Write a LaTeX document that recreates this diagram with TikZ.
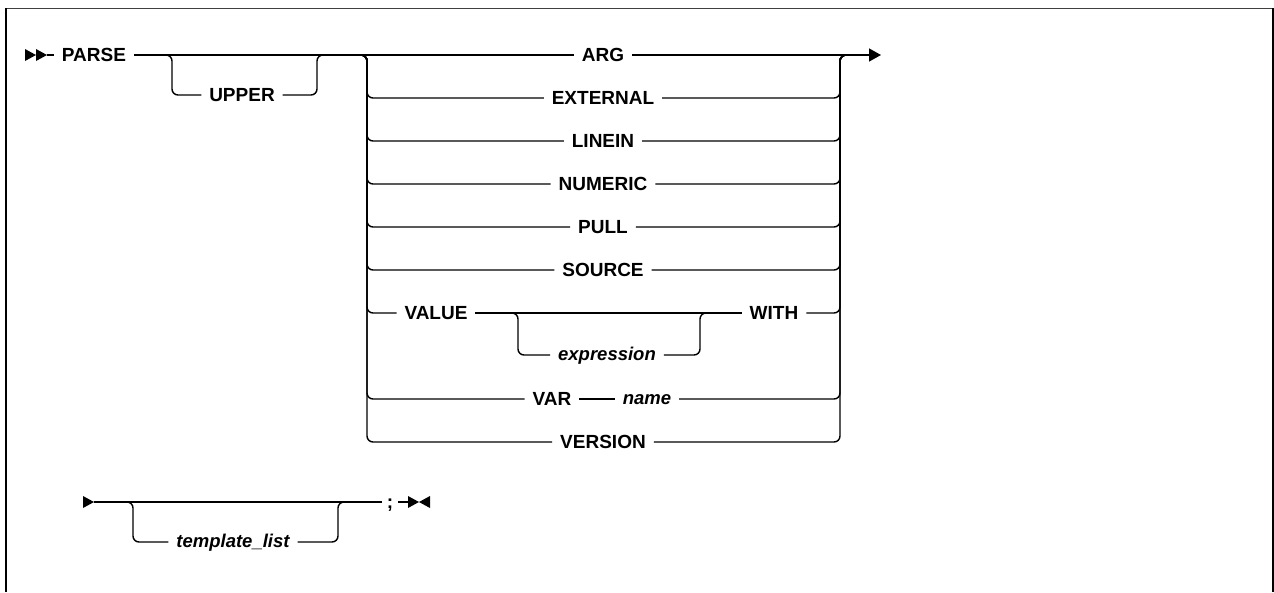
\documentclass[tikz,border=0pt]{standalone}
\usepackage{fontspec}
\newfontfamily\railfont{Liberation Sans}
\usetikzlibrary{arrows.meta}
\tikzset{
  rail/.style={line width=1.4pt, rounded corners=6pt},
  kw/.style={font=\railfont\bfseries\fontsize{19}{22}\selectfont, inner xsep=8pt, inner ysep=0pt,
    outer sep=0pt, text height=13.5pt, text depth=0pt},
  varbox/.style={kw, font=\railfont\bfseries\itshape\fontsize{18.5}{22}\selectfont, text height=10pt}
}

\begin{document}
\begin{tikzpicture}[x=1pt,y=-1pt]
  \useasboundingbox (0,0) rectangle (1274,592);
  % Frame
  \draw[line width=1.5pt, black!75] (6,8.5) -- (1273,8.5);
  \draw[line width=2pt] (6,592) -- (6,7.75);
  \draw[line width=2pt] (1273,7.75) -- (1273,592);

  % Keywords
  \node[kw] (PARSE) at (94,55) {PARSE};
  \node[kw] (UPPER) at (242,95) {UPPER};
  \foreach \n/\y in {ARG/55,EXTERNAL/98,LINEIN/141,NUMERIC/184,PULL/227,SOURCE/270,VERSION/442}
    \node[kw] (\n) at (603,\y) {\n};
  \node[kw] (VALUE) at (436,313) {VALUE};
  \node[varbox] (expression) at (607,355) {expression};
  \node[kw] (WITH) at (774,313) {WITH};
  \node[kw] (VAR) at (552,399) {VAR};
  \node[varbox] (name) at (647,399) {name};
  \node[varbox] (template) at (233,542) {template\_list};
  \node[kw, inner xsep=5pt] (semi) at (390,502) {;};

  % Branch points
  \coordinate (start) at (47,55);
  \coordinate (out) at (881,55);
  \coordinate (u1) at (164,55);
  \coordinate (u2) at (317,55);
  \coordinate (cl) at (359,55);
  \coordinate (lx) at (367,55);
  \coordinate (rx) at (840,55);
  \coordinate (cr) at (848,55);
  \coordinate (v1) at (510,313);
  \coordinate (v2) at (700,313);
  \coordinate (cont) at (94,502);
  \coordinate (t1) at (125,502);
  \coordinate (t2) at (338,502);
  \coordinate (stop) at (408,502);

  % First line
  \fill (25,49) -- (36,55) -- (25,61) -- cycle;
  \fill (36,49) -- (47,55) -- (36,61) -- cycle;
  \draw[rail] (start) -- (PARSE.west);
  \draw[rail] (PARSE.east) -- (ARG.west);
  \draw[rail, -{Triangle[length=12pt,width=13pt]}] (ARG.east) -- (out);
  \draw[rail] (u1) -| ++(8,40) -- (UPPER.west);
  \draw[rail] (UPPER.east) -| (u2) -- ++(8,0);

  % Choices
  \foreach \a/\b in {EXTERNAL/EXTERNAL,LINEIN/LINEIN,NUMERIC/NUMERIC,PULL/PULL,
      SOURCE/SOURCE,VALUE/WITH,VAR/name,VERSION/VERSION}{
    \draw[rail] (cl) -| (lx |- \a.west) -- (\a.west);
    \draw[rail] (\b.east) -| (rx) -- (cr);
  }
  \draw[rail] (VALUE.east) -- (WITH.west);
  \draw[rail] (v1) -| ++(8,42) -- (expression.west);
  \draw[rail] (expression.east) -| (v2) -- ++(8,0);
  \draw[rail] (VAR.east) -- (name.west);

  % Second line
  \fill (83,496) -- (94,502) -- (83,508) -- cycle;
  \draw[rail] (cont) -- (semi.west);
  \draw[rail] (t1) -| ++(8,40) -- (template.west);
  \draw[rail] (template.east) -| (t2) -- ++(8,0);
  \draw[rail] (semi.east) -- (stop);
  \fill (408,496) -- (419,502) -- (408,508) -- cycle;
  \fill (430,496) -- (419,502) -- (430,508) -- cycle;
\end{tikzpicture}
\end{document}
